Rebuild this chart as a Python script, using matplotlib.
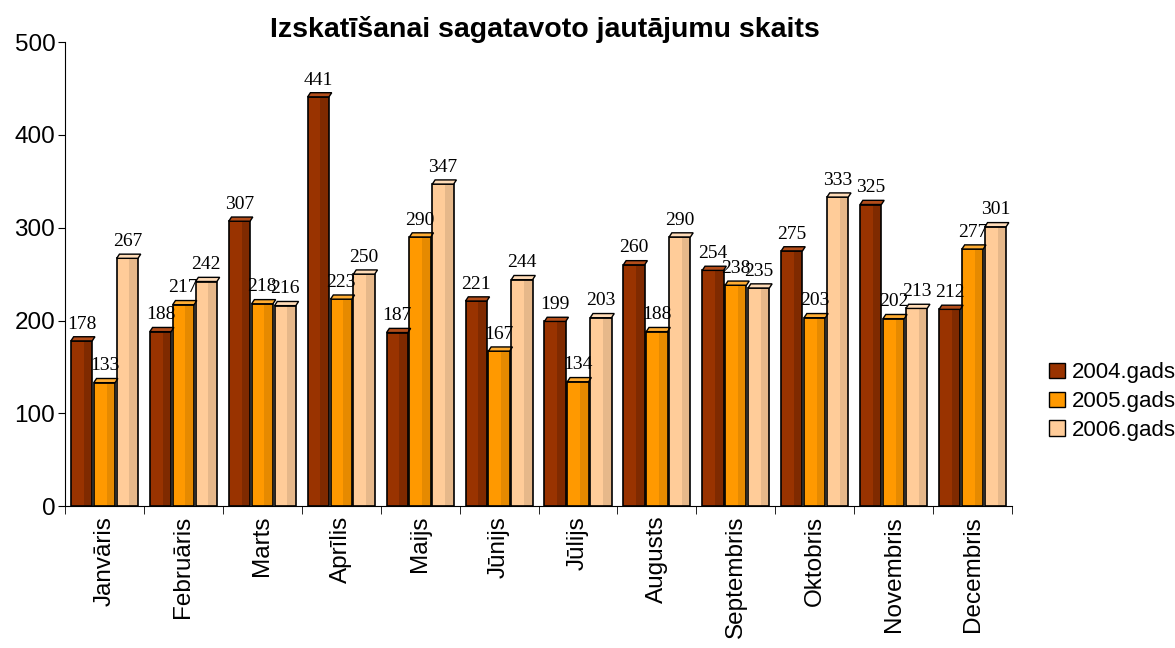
import numpy as np
import matplotlib.pyplot as plt
from matplotlib.patches import Polygon, Rectangle

months = ['Janvāris', 'Februāris', 'Marts', 'Aprīlis', 'Maijs', 'Jūnijs',
          'Jūlijs', 'Augusts', 'Septembris', 'Oktobris', 'Novembris', 'Decembris']
y2004 = [178, 188, 307, 441, 187, 221, 199, 260, 254, 275, 325, 212]
y2005 = [133, 217, 218, 223, 290, 167, 134, 188, 238, 203, 202, 277]
y2006 = [267, 242, 216, 250, 347, 244, 203, 290, 235, 333, 213, 301]
series = ['2004.gads', '2005.gads', '2006.gads']

colors = ['#993300', '#FF9900', '#FFCC99']
shades = ['#7f2a00', '#e68a00', '#e6b88a']
tops = ['#b34d1a', '#ffad33', '#ffdcb8']

fig = plt.figure(figsize=(11.75, 6.48), dpi=100)
ax = fig.add_axes([0.0553, 0.219, 0.806, 0.716])

x = np.arange(len(months))
w = 0.29
dx = 0.035   # depth offset of top cap (x units)
dy = 4.5     # depth offset of top cap (y units)

for k, vals in enumerate([y2004, y2005, y2006]):
    offs = (k - 1) * w
    for i, v in enumerate(vals):
        left = x[i] + offs - w / 2 + 0.01
        bw = w - 0.02
        ax.add_patch(Rectangle((left, 0), bw, v, facecolor=colors[k], edgecolor='none', zorder=2))
        ax.add_patch(Rectangle((left + bw * 0.6, 0), bw * 0.4, v, facecolor=shades[k], edgecolor='none', zorder=2))
        ax.add_patch(Rectangle((left, 0), bw, v, facecolor='none', edgecolor='black', lw=1.2, zorder=3))
        cap = [(left, v), (left + bw, v), (left + bw + dx, v + dy), (left + dx, v + dy)]
        ax.add_patch(Polygon(cap, closed=True, facecolor=tops[k], edgecolor='black', lw=1.0, zorder=3))
        ax.text(x[i] + offs, v + 9, str(v), ha='center', va='bottom',
                fontsize=14, family='Liberation Serif', zorder=4)
    ax.bar([0], [0], color=colors[k], edgecolor='black', label=series[k])

ax.set_xlim(-0.5, 11.5)
ax.set_ylim(0, 500)
ax.set_yticks([0, 100, 200, 300, 400, 500])
ax.tick_params(axis='y', labelsize=17.5, length=5, direction='out', pad=2)
ax.set_xticks(x)
ax.set_xticklabels(months, rotation=90, fontsize=17.5)
ax.tick_params(axis='x', which='major', length=0, pad=7)
ax.set_xticks(np.arange(-0.5, 12, 1), minor=True)
ax.tick_params(axis='x', which='minor', length=6)
for lab in ax.get_xticklabels() + ax.get_yticklabels():
    lab.set_family('Liberation Sans')
ax.spines['top'].set_visible(False)
ax.spines['right'].set_visible(False)

fig.suptitle('Izskatīšanai sagatavoto jautājumu skaits', x=0.464, y=0.975,
             fontsize=20.5, fontweight='bold', family='Liberation Sans')

leg = fig.legend(loc='center left', bbox_to_anchor=(0.876, 0.38), frameon=False,
                 prop={'family': 'Liberation Sans', 'size': 16},
                 handlelength=0.7, handleheight=0.7, handletextpad=0.3, labelspacing=0.35)

fig.savefig('out.png', dpi=100)
